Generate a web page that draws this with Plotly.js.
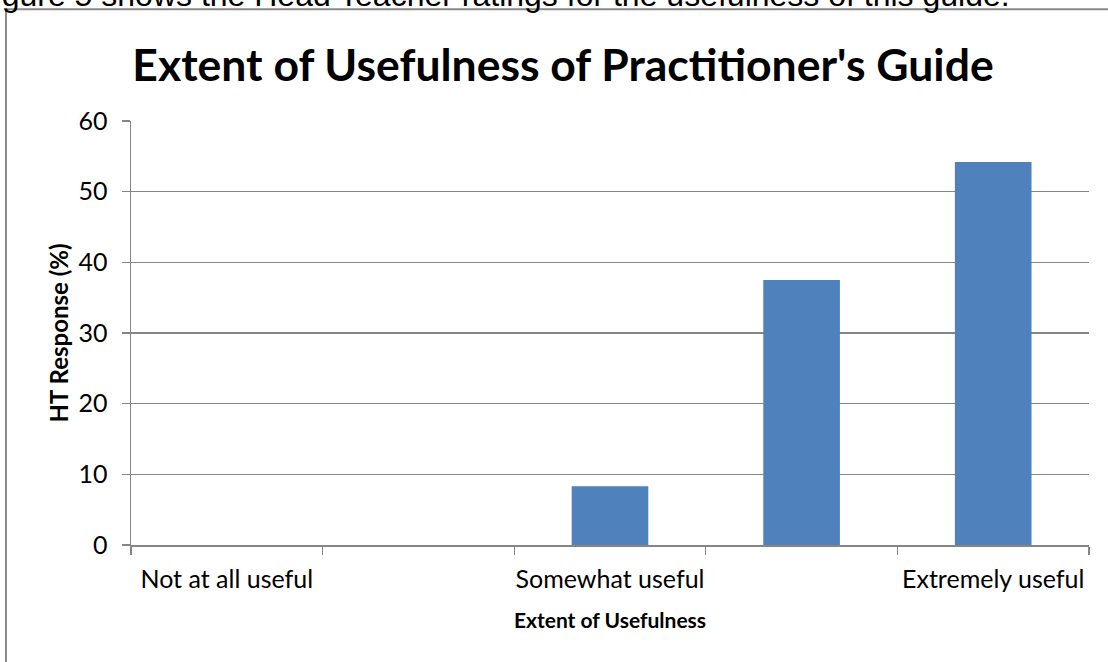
<!DOCTYPE html>
<html>
<head>
<meta charset="utf-8">
<script src="https://cdn.plot.ly/plotly-3.0.1.min.js"></script>
<style>
  html, body { margin: 0; padding: 0; background: #ffffff; overflow: hidden; }
  #chart { width: 1108px; height: 662px; }
</style>
</head>
<body>
<div id="chart"></div>
<script>
// ---- data ----
const categories = [1, 2, 3, 4, 5];
const tickLabels = ["Not at all useful", "", "Somewhat useful", "", "Extremely useful"];
const responsePct = [0, 0, 8.3, 37.5, 54.2];
const chartTitle = "Extent of Usefulness of Practitioner's Guide";
const xTitle = "Extent of Usefulness";
const yTitle = "HT Response (%)";
const pageText = "Figure 5 shows the Head Teacher ratings for the usefulness of this guide.";

// ---- layout helpers (pixel -> paper) ----
const W = 1108, H = 662;
const M = { l: 131, r: 19, t: 121, b: 117 };
const PW = W - M.l - M.r, PH = H - M.t - M.b;
const px = v => (v - M.l) / PW;
const py = v => (H - M.b - v) / PH;

const FONT = "Lato, 'Open Sans', sans-serif";
const GRID = "#858585";

const trace = {
  type: "bar",
  x: categories,
  y: responsePct,
  marker: { color: "#4F81BD", line: { width: 0 } },
  hoverinfo: "y"
};

const layout = {
  width: W, height: H,
  margin: M,
  paper_bgcolor: "#ffffff",
  plot_bgcolor: "#ffffff",
  showlegend: false,
  bargap: 0.6,
  font: { family: FONT, color: "#000000" },
  title: {
    text: "<b>" + chartTitle + "</b>",
    font: { family: FONT, size: 44.5, color: "#000000" },
    xref: "container", yref: "container",
    x: 563 / W, xanchor: "center",
    y: 1 - 65 / H, yanchor: "middle"
  },
  xaxis: {
    type: "category",
    tickmode: "array",
    tickvals: categories,
    ticktext: tickLabels,
    tickson: "boundaries",
    tickangle: 0,
    ticks: "outside", ticklen: 8, tickcolor: GRID, tickwidth: 1.2,
    showline: true, linecolor: GRID, linewidth: 1.5,
    showgrid: false, zeroline: false,
    tickfont: { family: FONT, size: 25, color: "#000000" },
    ticklabelstandoff: 11,
    title: { text: "<b>" + xTitle + "</b>", font: { family: FONT, size: 21, color: "#000000" }, standoff: 22 },
    automargin: false
  },
  yaxis: {
    range: [0, 60], dtick: 10, tick0: 0,
    ticks: "outside", ticklen: 8, tickcolor: GRID, tickwidth: 1.2,
    showline: true, linecolor: GRID, linewidth: 1.5,
    showgrid: true, gridcolor: GRID, gridwidth: 1.4,
    zeroline: false,
    tickfont: { family: FONT, size: 25, color: "#000000" },
    ticklabelstandoff: 9,
    title: { text: "<b>" + yTitle + "</b>", font: { family: FONT, size: 24, color: "#000000" }, standoff: 3 },
    automargin: false
  },
  shapes: [
    { type: "line", xref: "paper", yref: "paper", x0: px(6), x1: px(1300), y0: py(9.3), y1: py(9.3), line: { color: "#8a8a8a", width: 2 } },
    { type: "line", xref: "paper", yref: "paper", x0: px(6), x1: px(6), y0: py(9.3), y1: py(800), line: { color: "#8a8a8a", width: 2 } }
  ],
  annotations: [
    {
      text: pageText, showarrow: false,
      xref: "paper", yref: "paper",
      x: px(-27), xanchor: "left",
      y: py(-5), yanchor: "middle",
      font: { family: "'Liberation Sans', Arial, sans-serif", size: 32, color: "#000000" }
    }
  ]
};

Plotly.newPlot("chart", [trace], layout, { displayModeBar: false, staticPlot: true });
</script>
</body>
</html>
